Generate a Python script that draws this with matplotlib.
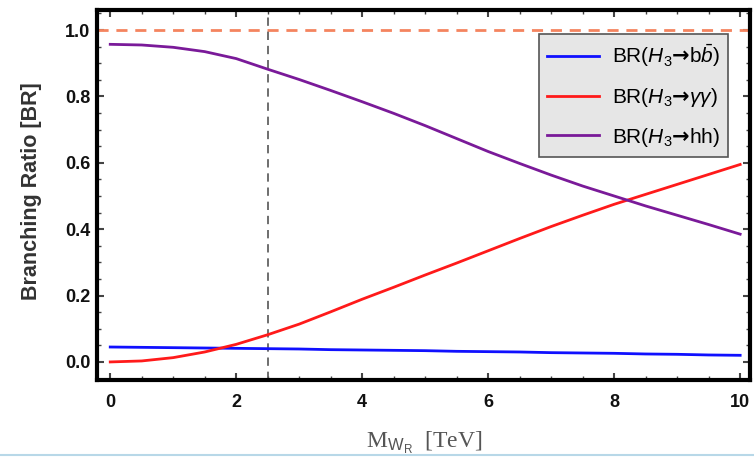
import numpy as np
import matplotlib
matplotlib.use('Agg')
import matplotlib.pyplot as plt
from matplotlib.ticker import MultipleLocator

plt.rcParams['font.family'] = ['Liberation Sans', 'DejaVu Sans']
plt.rcParams['mathtext.fontset'] = 'custom'
plt.rcParams['mathtext.rm'] = 'Liberation Sans'
plt.rcParams['mathtext.it'] = 'Liberation Sans:italic'
plt.rcParams['mathtext.bf'] = 'DejaVu Sans:bold'

# values
mwr = [0, 0.5, 1, 1.5, 2, 2.5, 3, 3.5, 4, 4.5, 5, 5.5, 6, 6.5, 7, 7.5, 8, 8.5, 9, 9.5, 10]
br_bb = [0.045, 0.044, 0.043, 0.042, 0.041, 0.040, 0.039, 0.037, 0.036, 0.035, 0.034,
         0.032, 0.031, 0.030, 0.028, 0.027, 0.026, 0.024, 0.023, 0.021, 0.020]
br_gg = [0.0, 0.003, 0.013, 0.030, 0.053, 0.082, 0.114, 0.151, 0.189, 0.225, 0.262,
         0.298, 0.335, 0.372, 0.408, 0.442, 0.475, 0.505, 0.535, 0.565, 0.595]
br_hh = [0.957, 0.955, 0.948, 0.935, 0.914, 0.882, 0.851, 0.818, 0.784, 0.749, 0.712,
         0.673, 0.634, 0.598, 0.563, 0.530, 0.500, 0.470, 0.442, 0.414, 0.385]

fig = plt.figure(figsize=(7.54, 4.61), dpi=100)
ax = fig.add_axes([0.129, 0.176, 0.866, 0.802])

ax.axhline(1.0, color='#f4845f', lw=2, ls=(0, (4, 2.8)))
ax.axvline(2.5, color='#555555', lw=1.2, ls=(0, (5, 3.5)))
ax.plot(mwr, br_bb, color='#1010ff', lw=2, label=r'BR($H_3$$\mathbf{→}$b$\bar{b}$)')
ax.plot(mwr, br_gg, color='#ff1a1a', lw=2, label=r'BR($H_3$$\mathbf{→}$$\gamma\gamma$)')
ax.plot(mwr, br_hh, color='#7a1a99', lw=2, label=r'BR($H_3$$\mathbf{→}$hh)')

ax.set_xlim(-0.206, 10.16)
ax.set_ylim(-0.054, 1.06)
ax.xaxis.set_major_locator(MultipleLocator(2))
ax.xaxis.set_minor_locator(MultipleLocator(0.5))
ax.yaxis.set_major_locator(MultipleLocator(0.2))
ax.yaxis.set_minor_locator(MultipleLocator(0.05))
ax.set_yticklabels(['%.1f' % v for v in ax.get_yticks()])
ax.tick_params(which='both', direction='in', top=True, right=True, color='#444444')
ax.tick_params(which='major', length=5, width=1.5, labelsize=13, pad=5)
ax.tick_params(axis='x', which='major', pad=10)
ax.tick_params(which='minor', length=3, width=1)
for lab in ax.get_xticklabels() + ax.get_yticklabels():
    lab.set_fontweight('bold')
    lab.set_color('#111111')
for s in ax.spines.values():
    s.set_linewidth(3)

ax.set_ylabel('Branching Ratio [BR]', fontsize=15.5, fontweight='bold', color='#333333')
ax.yaxis.set_label_coords(-0.084, 0.51)
ax.set_xlabel(r'M$_{\mathrm{W}_\mathrm{R}}$  [TeV]', fontsize=17, color='#555555',
              family='Liberation Serif')
ax.xaxis.set_label_coords(0.5, -0.135)

leg = ax.legend(loc='upper right', bbox_to_anchor=(0.966, 0.935), fontsize=15,
                fancybox=False, framealpha=1, handlelength=2.5, handletextpad=0.6,
                labelspacing=0.8, borderpad=0.4, borderaxespad=0)
leg.get_frame().set_facecolor('#e6e6e6')
leg.get_frame().set_edgecolor('#555555')
leg.get_frame().set_linewidth(1.2)

fig.add_artist(plt.Line2D([0, 1], [0.012, 0.012], color='#b8d8e8', lw=1.5))

fig.savefig('out.png', dpi=100)
